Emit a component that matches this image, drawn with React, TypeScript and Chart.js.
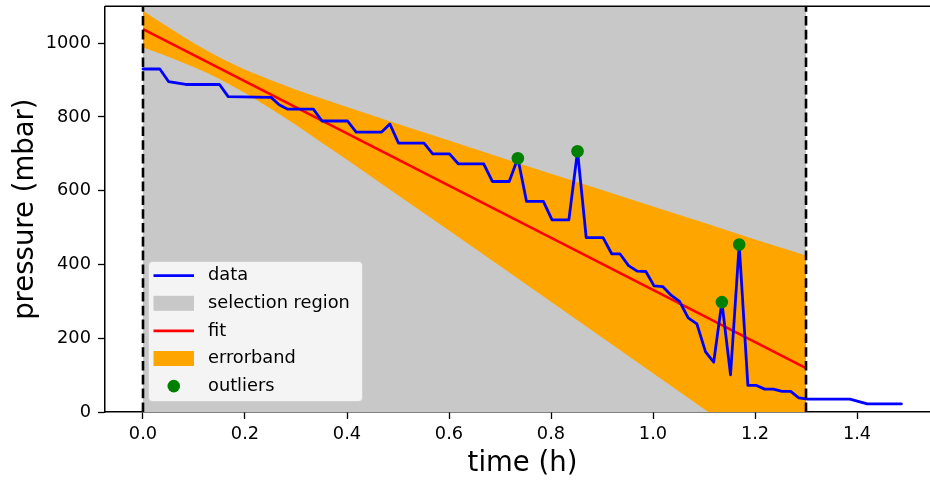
import React, { useEffect, useRef } from "react";
import { Chart, registerables } from "chart.js";

Chart.register(...registerables);

// Measured pressure trace (time in hours, pressure in mbar)
const timeH = [
  0, 0.033, 0.05, 0.084, 0.15, 0.167, 0.251, 0.267, 0.284, 0.334,
  0.351, 0.401, 0.418, 0.468, 0.484, 0.501, 0.551, 0.568, 0.601, 0.618,
  0.668, 0.685, 0.718, 0.735, 0.752, 0.785, 0.802, 0.835, 0.852, 0.869,
  0.902, 0.919, 0.935, 0.952, 0.969, 0.986, 1.002, 1.019, 1.036, 1.052,
  1.069, 1.086, 1.103, 1.119, 1.135, 1.152, 1.169, 1.186, 1.203, 1.219,
  1.236, 1.253, 1.27, 1.286, 1.303, 1.386, 1.42, 1.487,
];
const pressure = [
  930, 930, 896, 888, 888, 855, 853, 833, 821, 821,
  789, 789, 759, 759, 781, 729, 729, 700, 700, 673,
  673, 625, 625, 688, 571, 571, 521, 521, 707, 473,
  473, 429, 429, 397, 382, 381, 342, 340, 316, 300,
  255, 239, 163, 135, 298, 101, 454, 72, 72, 62,
  62, 56, 56, 38, 35, 35, 22, 22,
];

// Points flagged as outliers
const outlierTimeH = [0.735, 0.852, 1.135, 1.169];
const outlierPressure = [688, 707, 298, 454];

// Linear fit over the selection region
const fitTimeH = [0, 1.3];
const fitPressure = [1038, 119];

// Error band around the fit
const bandTimeH = [
  0, 0.025, 0.05, 0.075, 0.1, 0.125, 0.15, 0.2, 0.25, 0.3, 0.35,
  0.4, 0.5, 0.6, 0.7, 0.8, 0.9, 1.0, 1.1, 1.2, 1.3,
];
const bandUpper = [
  1088, 1065, 1043, 1021, 1000, 980, 961, 928, 900, 874, 850,
  827, 781, 736, 691, 646, 602, 557, 513, 468, 424,
];
const bandLower = [
  988, 976, 963, 949, 935, 920, 903, 865, 823, 778, 731,
  684, 588, 492, 396, 299, 202, 105, 8, -89, -186,
];

// Selection region bounds (hours)
const selectionStart = 0;
const selectionEnd = 1.3;

// Axis ranges and ticks
const xMin = -0.0745;
const xMax = 1.5627;
const yMin = 0;
const yMax = 1100;
const xTickValues = [0, 0.2, 0.4, 0.6, 0.8, 1.0, 1.2, 1.4];
const xTickLabels = ["0.0", "0.2", "0.4", "0.6", "0.8", "1.0", "1.2", "1.4"];
const yTickValues = [0, 200, 400, 600, 800, 1000];
const yTickLabels = ["0", "200", "400", "600", "800", "1000"];

const legendLabels = ["data", "selection region", "fit", "errorband", "outliers"];

const FONT = "'DejaVu Sans', sans-serif";
const BLUE = "#0000ff";
const RED = "#ff0000";
const ORANGE = "#ffa500";
const GREY = "#c8c8c8";
const GREEN = "#008000";

const CANVAS_W = 950;
const CANVAS_H = 480;

const zip = (xs: number[], ys: number[]) => xs.map((x, i) => ({ x, y: ys[i] }));

// Top spine and the in-plot legend box
const framePlugin = {
  id: "frameAndLegend",
  afterDraw(chart: any) {
    const { ctx, chartArea } = chart;
    ctx.save();
    ctx.strokeStyle = "#000";
    ctx.lineWidth = 1.5;
    ctx.beginPath();
    ctx.moveTo(chartArea.left, chartArea.top);
    ctx.lineTo(chartArea.right, chartArea.top);
    ctx.stroke();

    const bx = 148.5;
    const by = 261.5;
    const bw = 214;
    const bh = 140;
    const r = 4;
    ctx.beginPath();
    ctx.moveTo(bx + r, by);
    ctx.lineTo(bx + bw - r, by);
    ctx.quadraticCurveTo(bx + bw, by, bx + bw, by + r);
    ctx.lineTo(bx + bw, by + bh - r);
    ctx.quadraticCurveTo(bx + bw, by + bh, bx + bw - r, by + bh);
    ctx.lineTo(bx + r, by + bh);
    ctx.quadraticCurveTo(bx, by + bh, bx, by + bh - r);
    ctx.lineTo(bx, by + r);
    ctx.quadraticCurveTo(bx, by, bx + r, by);
    ctx.closePath();
    ctx.fillStyle = "rgba(255,255,255,0.8)";
    ctx.fill();
    ctx.strokeStyle = "rgba(204,204,204,0.8)";
    ctx.lineWidth = 1;
    ctx.stroke();

    const sx0 = 153.5;
    const sx1 = 194;
    const textX = 208;
    const rowY0 = 275.7;
    const rowStep = 27.6;
    ctx.font = `17.8px ${FONT}`;
    ctx.textBaseline = "middle";
    ctx.textAlign = "left";
    legendLabels.forEach((label, i) => {
      const cy = rowY0 + i * rowStep;
      if (i === 0 || i === 2) {
        ctx.strokeStyle = i === 0 ? BLUE : RED;
        ctx.lineWidth = 2.8;
        ctx.beginPath();
        ctx.moveTo(sx0, cy);
        ctx.lineTo(sx1, cy);
        ctx.stroke();
      } else if (i === 1 || i === 3) {
        ctx.fillStyle = i === 1 ? GREY : ORANGE;
        ctx.fillRect(sx0, cy - 7.5, sx1 - sx0, 15);
      } else {
        ctx.fillStyle = GREEN;
        ctx.beginPath();
        ctx.arc((sx0 + sx1) / 2, cy, 6.3, 0, Math.PI * 2);
        ctx.fill();
      }
      ctx.fillStyle = "#000";
      ctx.fillText(label, textX, cy);
    });
    ctx.restore();
  },
};

export default function App() {
  const canvasRef = useRef<HTMLCanvasElement | null>(null);

  useEffect(() => {
    const canvas = canvasRef.current;
    if (!canvas) return;

    const dashed = {
      borderColor: "#000",
      borderWidth: 2.6,
      borderDash: [9.6, 4.2],
      pointRadius: 0,
      showLine: true,
      fill: false,
    };

    const chart = new Chart(canvas, {
      type: "scatter",
      data: {
        datasets: [
          {
            // 0: selection region, filled up to the top of the plot
            data: [
              { x: selectionStart, y: yMin },
              { x: selectionEnd, y: yMin },
            ],
            showLine: true,
            borderWidth: 0,
            borderColor: "rgba(0,0,0,0)",
            backgroundColor: GREY,
            pointRadius: 0,
            fill: "end",
            order: 10,
          },
          {
            // 1: upper edge of the error band, filled down to the lower edge
            data: zip(bandTimeH, bandUpper),
            showLine: true,
            borderWidth: 0,
            borderColor: "rgba(0,0,0,0)",
            backgroundColor: ORANGE,
            pointRadius: 0,
            fill: 2,
            order: 9,
          },
          {
            // 2: lower edge of the error band
            data: zip(bandTimeH, bandLower),
            showLine: true,
            borderWidth: 0,
            borderColor: "rgba(0,0,0,0)",
            pointRadius: 0,
            fill: false,
            order: 8,
          },
          {
            // 3: fit
            data: zip(fitTimeH, fitPressure),
            showLine: true,
            borderColor: RED,
            borderWidth: 2.6,
            pointRadius: 0,
            fill: false,
            order: 7,
          },
          {
            // 4: measured data
            data: zip(timeH, pressure),
            showLine: true,
            borderColor: BLUE,
            borderWidth: 2.8,
            borderJoinStyle: "round",
            borderCapStyle: "round",
            pointRadius: 0,
            fill: false,
            order: 6,
          },
          {
            // 5, 6: selection bounds
            ...dashed,
            data: [
              { x: selectionStart, y: yMin },
              { x: selectionStart, y: yMax },
            ],
            order: 5,
          },
          {
            ...dashed,
            data: [
              { x: selectionEnd, y: yMin },
              { x: selectionEnd, y: yMax },
            ],
            order: 4,
          },
          {
            // 7: outliers
            data: zip(outlierTimeH, outlierPressure),
            showLine: false,
            pointRadius: 6.3,
            pointHoverRadius: 6.3,
            pointBackgroundColor: GREEN,
            pointBorderWidth: 0,
            backgroundColor: GREEN,
            borderColor: GREEN,
            order: 0,
          },
        ],
      },
      options: {
        responsive: false,
        animation: false,
        devicePixelRatio: 1,
        layout: { padding: { top: 6, right: CANVAS_W - 940, left: 0, bottom: 0 } },
        plugins: {
          legend: { display: false },
          tooltip: { enabled: false },
        },
        elements: { line: { tension: 0 } },
        scales: {
          x: {
            type: "linear",
            min: xMin,
            max: xMax,
            afterBuildTicks: (scale: any) => {
              scale.ticks = xTickValues.map((v) => ({ value: v }));
            },
            afterFit: (scale: any) => {
              scale.height = CANVAS_H - 412;
              scale.paddingLeft = 0;
              scale.paddingRight = 0;
            },
            ticks: {
              callback: (_v: any, i: number) => xTickLabels[i],
              color: "#000",
              font: { family: FONT, size: 17.8 },
              padding: 5,
              maxRotation: 0,
              autoSkip: false,
            },
            grid: {
              drawOnChartArea: false,
              drawTicks: true,
              tickLength: 7,
              tickWidth: 1.3,
              tickColor: "#000",
            },
            border: { display: true, color: "#000", width: 1.5 },
            title: {
              display: true,
              text: "time (h)",
              color: "#000",
              font: { family: FONT, size: 27.5, lineHeight: 1 },
              padding: { top: 0, bottom: 2 },
            },
          },
          y: {
            type: "linear",
            min: yMin,
            max: yMax,
            afterBuildTicks: (scale: any) => {
              scale.ticks = yTickValues.map((v) => ({ value: v }));
            },
            afterFit: (scale: any) => {
              scale.width = 105;
              scale.paddingTop = 0;
              scale.paddingBottom = 0;
            },
            ticks: {
              callback: (_v: any, i: number) => yTickLabels[i],
              color: "#000",
              font: { family: FONT, size: 17.8 },
              padding: 7,
              autoSkip: false,
            },
            grid: {
              drawOnChartArea: false,
              drawTicks: true,
              tickLength: 7,
              tickWidth: 1.3,
              tickColor: "#000",
            },
            border: { display: true, color: "#000", width: 1.5 },
            title: {
              display: true,
              text: "pressure (mbar)",
              color: "#000",
              font: { family: FONT, size: 27.5, lineHeight: 1 },
              padding: { top: 12, bottom: 0 },
            },
          },
        },
      },
      plugins: [framePlugin],
    } as any);

    return () => chart.destroy();
  }, []);

  return (
    <div
      style={{
        position: "fixed",
        left: 0,
        top: 0,
        width: 930,
        height: 480,
        overflow: "hidden",
        background: "#fff",
      }}
    >
      <canvas
        ref={canvasRef}
        width={CANVAS_W}
        height={CANVAS_H}
        style={{ display: "block", width: CANVAS_W, height: CANVAS_H }}
      />
    </div>
  );
}
